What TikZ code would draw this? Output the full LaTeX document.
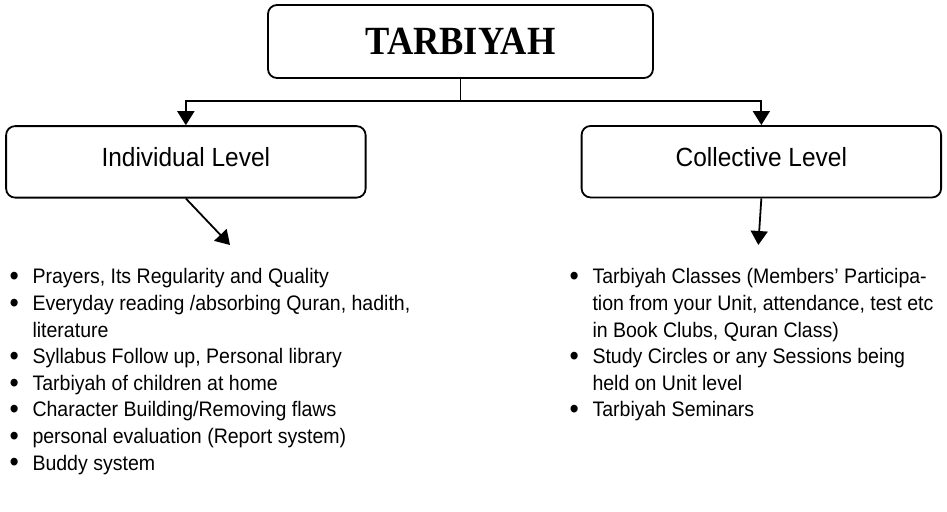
\documentclass[tikz,border=0pt]{standalone}
\usepackage{fontspec}
\setmainfont[FakeStretch=0.93]{Liberation Sans}
\newfontfamily\titlefont[FakeStretch=0.91]{Liberation Serif}
\usetikzlibrary{arrows.meta,calc,positioning}

% bullet and hanging indent for the two lists
\newcommand{\itm}{\makebox[18pt][c]{\raisebox{-1.8pt}{\scalebox{1.35}{\textbullet}}}\hspace*{9.3pt}}
\newcommand{\ind}{\hspace*{27.3pt}}

\begin{document}
\begin{tikzpicture}[x=1pt, y=-1pt,
    box/.style={rectangle, draw, line width=1.8pt, rounded corners=9pt, inner sep=0pt},
    level/.style={box, minimum width=359.5pt, minimum height=71.5pt, font=\fontsize{26.3}{30}\selectfont, text height=18.5pt, text depth=8.8pt},
    arr/.style={-{Triangle[length=14pt,width=17pt]}, line width=1.8pt},
    list/.style={anchor=north west, inner sep=0pt, align=left, font=\fontsize{21}{26.6}\selectfont}]
    \useasboundingbox (0,0) rectangle (947,511);

    \node[box, minimum width=385pt, minimum height=73pt, font=\titlefont\bfseries\fontsize{40}{44}\selectfont, text height=27pt, text depth=0pt] (title) at (460.5,41.5) {TARBIYAH};
    \node[level] (individual) at (185.85,161.85) {Individual Level};
    \node[level] (collective) at (761.35,161.7) {Collective Level};

    \node[list] (indlist) at (5,268.5) {\itm Prayers, Its Regularity and Quality\\
        \itm Everyday reading /absorbing Quran, hadith,\\
        \ind literature\\
        \itm Syllabus Follow up, Personal library\\
        \itm Tarbiyah of children at home\\
        \itm Character Building/Removing flaws\\
        \itm personal evaluation (Report system)\\
        \itm Buddy system};
    \node[list] (collist) at (565,268.5) {\itm Tarbiyah Classes (Members’ Participa-\\
        \ind tion from your Unit, attendance, test etc\\
        \ind in Book Clubs, Quran Class)\\
        \itm Study Circles or any Sessions being\\
        \ind held on Unit level\\
        \itm Tarbiyah Seminars};

    \coordinate (split) at (460.5,101);
    \coordinate (indtip) at (230,245);
    \coordinate (coltip) at (758.3,245);

    \draw[line width=1.8pt] (title) -- (split);
    \draw[arr] (split) -| (individual);
    \draw[arr] (split) -| (collective);
    \draw[arr] (individual.south) -- (indtip);
    \draw[arr] (collective.south) -- (coltip);
\end{tikzpicture}
\end{document}
